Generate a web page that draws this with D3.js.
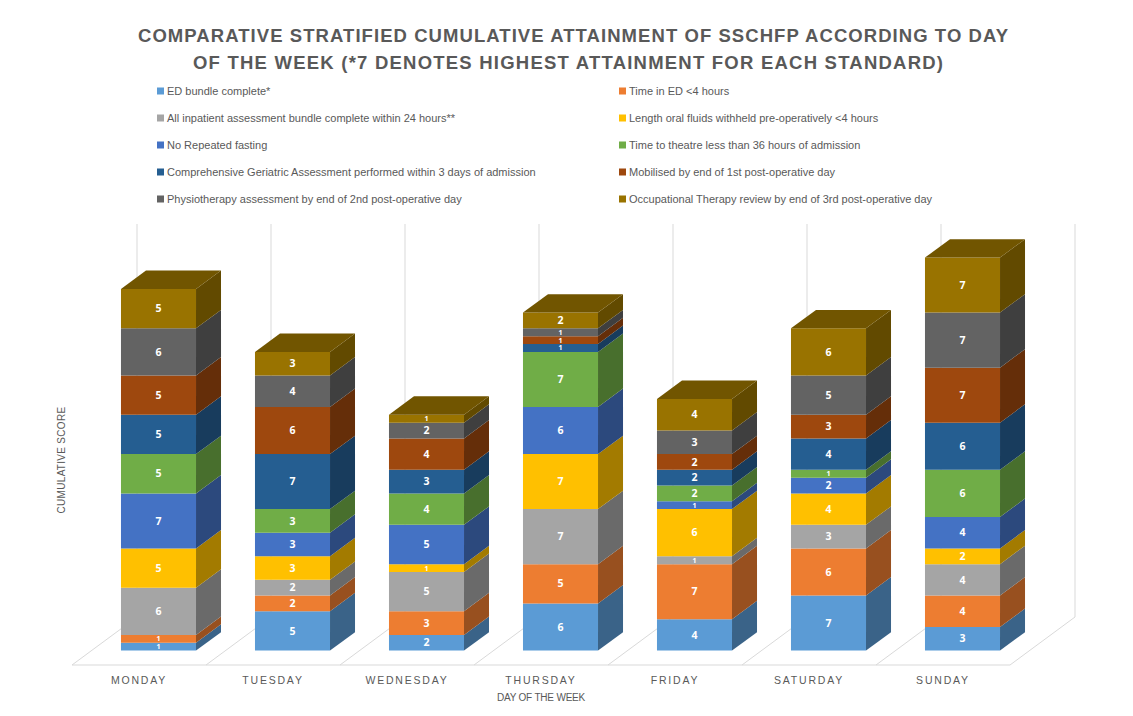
<!DOCTYPE html>
<html><head><meta charset="utf-8">
<script src="https://cdn.jsdelivr.net/npm/d3@7"></script>
<style>
html,body{margin:0;padding:0;background:#fff;}
svg{display:block;}
</style></head>
<body>
<svg id="chart" width="1133" height="716"></svg>
<script>
const days = ["MONDAY","TUESDAY","WEDNESDAY","THURSDAY","FRIDAY","SATURDAY","SUNDAY"];
const seriesNames = [
  "ED bundle complete*",
  "Time in ED <4 hours",
  "All inpatient assessment bundle complete within 24 hours**",
  "Length oral fluids withheld pre-operatively <4 hours",
  "No Repeated fasting",
  "Time to theatre less than 36 hours of admission",
  "Comprehensive Geriatric Assessment performed within 3 days of admission",
  "Mobilised by end of 1st post-operative day",
  "Physiotherapy assessment by end of 2nd post-operative day",
  "Occupational Therapy review by end of 3rd post-operative day"
];
const seriesColors = ["#5B9BD5","#ED7D31","#A5A5A5","#FFC000","#4472C4","#70AD47","#255E91","#9E480E","#636363","#997300"];
// values per series, Monday..Sunday
const edBundle      = [1,5,2,6,4,7,3];
const timeInED      = [1,2,3,5,7,6,4];
const inpatient     = [6,2,5,7,1,3,4];
const oralFluids    = [5,3,1,7,6,4,2];
const noFasting     = [7,3,5,6,1,2,4];
const timeTheatre   = [5,3,4,7,2,1,6];
const cga           = [5,7,3,1,2,4,6];
const mobilised     = [5,6,4,1,2,3,7];
const physio        = [6,4,2,1,3,5,7];
const occTherapy    = [5,3,1,2,4,6,7];
const seriesValues = [edBundle,timeInED,inpatient,oralFluids,noFasting,timeTheatre,cga,mobilised,physio,occTherapy];
const titleLines = ["COMPARATIVE STRATIFIED CUMULATIVE ATTAINMENT OF SSCHFP ACCORDING TO DAY",
                    "OF THE WEEK (*7 DENOTES HIGHEST ATTAINMENT FOR EACH STANDARD)"];

const svg = d3.select("#chart");
const textColor = "#595959";

// geometry
const floorY = 665, floorLeft = 72, floorRight = 1010;
const depthDX = 65, depthDY = 48;
const x = d3.scaleBand().domain(days).range([floorLeft, floorRight]).padding(0);
const yMax = 50;
const h = d3.scaleLinear().domain([0, yMax]).range([0, 393]);
const d0 = 0.3, d1 = 0.3 + 25/65;
const barFrac = 0.56;

function proj(xx, d, v) { return [xx + d*depthDX, floorY - d*depthDY - h(v)]; }

// floor lines & back wall gridlines
const grid = svg.append("g").attr("stroke","#D9D9D9").attr("stroke-width",1).attr("fill","none");
const bounds = days.map(dd => x(dd)).concat([floorRight]);
grid.append("line").attr("x1",floorLeft).attr("x2",floorRight).attr("y1",floorY).attr("y2",floorY);
bounds.forEach(bx => {
  const a = proj(bx,0,0), b = proj(bx,1,0), c = proj(bx,1,yMax);
  grid.append("line").attr("x1",a[0]).attr("y1",a[1]).attr("x2",b[0]).attr("y2",b[1]);
  grid.append("line").attr("x1",b[0]).attr("y1",b[1]).attr("x2",c[0]).attr("y2",c[1]);
});

// stacked data
const stackData = days.map((dd,i) => {
  const o = {day: dd};
  seriesValues.forEach((s,j) => o["s"+j] = s[i]);
  return o;
});
const stack = d3.stack().keys(seriesValues.map((s,j)=>"s"+j))(stackData);

const barsG = svg.append("g");
const sideK = 0.64, topK = 0.74;
function scaleCol(c,k){ const r = d3.rgb(c); return d3.rgb(r.r*k, r.g*k, r.b*k).formatHex(); }
const poly = pts => pts.map(p => p.join(",")).join(" ");

days.forEach((dd,i) => {
  const bx0 = x(dd) + x.bandwidth()*(1-barFrac)/2;
  const bx1 = bx0 + x.bandwidth()*barFrac;
  const g = barsG.append("g");
  stack.forEach((layer,j) => {
    const [v0,v1] = layer[i];
    const col = seriesColors[j];
    const f = [proj(bx0,d0,v0),proj(bx1,d0,v0),proj(bx1,d0,v1),proj(bx0,d0,v1)];
    g.append("polygon").attr("points",poly(f)).attr("fill",col);
    const s = [proj(bx1,d0,v0),proj(bx1,d1,v0),proj(bx1,d1,v1),proj(bx1,d0,v1)];
    g.append("polygon").attr("points",poly(s)).attr("fill",scaleCol(col,sideK));
    if (j === stack.length-1) {
      const t = [proj(bx0,d0,v1),proj(bx1,d0,v1),proj(bx1,d1,v1),proj(bx0,d1,v1)];
      g.append("polygon").attr("points",poly(t)).attr("fill",scaleCol(col,topK));
    }
  });
  stack.forEach((layer,j) => {
    const [v0,v1] = layer[i];
    const c = proj((bx0+bx1)/2, d0, (v0+v1)/2);
    const small = seriesValues[j][i] === 1;
    g.append("text").attr("x",c[0]).attr("y",c[1]).attr("dy","0.35em")
      .attr("text-anchor","middle").attr("fill","#fff")
      .attr("font-family","'Open Sans', 'Liberation Sans', sans-serif")
      .attr("font-weight","bold").attr("font-size",small ? 7 : 10.5)
      .text(seriesValues[j][i]);
  });
});

// category labels
svg.append("g").selectAll("text").data(days).join("text")
  .attr("x", dd => x(dd) + x.bandwidth()/2)
  .attr("y", 684)
  .attr("text-anchor","middle")
  .attr("fill",textColor)
  .attr("font-family","'Liberation Sans', sans-serif")
  .attr("font-size",10.5)
  .attr("letter-spacing","1.8px")
  .text(dd => dd);

// axis titles
svg.append("text").attr("x",(floorLeft+floorRight)/2).attr("y",701)
  .attr("text-anchor","middle").attr("fill",textColor)
  .attr("font-family","'Liberation Sans', sans-serif").attr("font-size",10)
  .attr("letter-spacing","-0.2px")
  .text("DAY OF THE WEEK");
svg.append("text").attr("transform","translate(65,460) rotate(-90)")
  .attr("text-anchor","middle").attr("fill",textColor)
  .attr("font-family","'Liberation Sans', sans-serif").attr("font-size",10)
  .attr("letter-spacing","0.3px")
  .text("CUMULATIVE SCORE");

// title
const titleX = [[138,1008],[193,943]];
titleLines.forEach((t,i) => {
  svg.append("text").attr("x",titleX[i][0]).attr("y",42 + i*27)
    .attr("fill",textColor).attr("font-family","'Liberation Sans', sans-serif")
    .attr("font-weight","bold").attr("font-size",18.5)
    .attr("textLength",titleX[i][1]-titleX[i][0]).attr("lengthAdjust","spacing")
    .text(t);
});

// legend
const legend = svg.append("g");
seriesNames.forEach((name,j) => {
  const col = j % 2, row = Math.floor(j/2);
  const lx = col === 0 ? 157 : 619;
  const ly = 91 + row*27;
  legend.append("rect").attr("x",lx).attr("y",ly-3.5).attr("width",7).attr("height",7).attr("fill",seriesColors[j]);
  legend.append("text").attr("x",lx+10).attr("y",ly).attr("dy","0.35em")
    .attr("fill",textColor).attr("font-family","'Liberation Sans', sans-serif")
    .attr("font-size",11).text(name);
});
</script>
</body></html>
